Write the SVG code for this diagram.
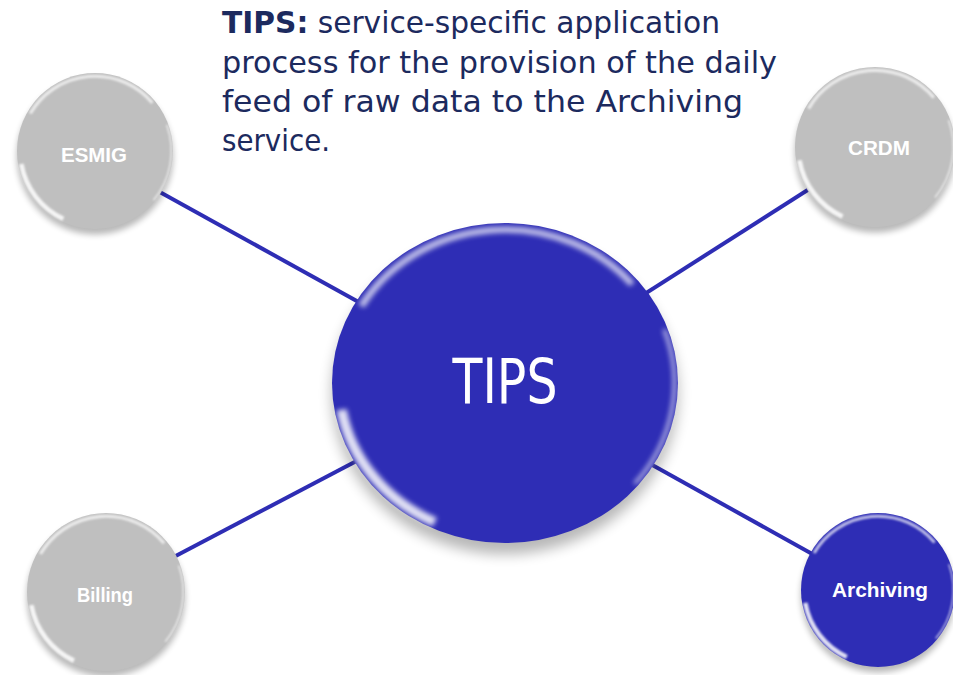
<svg xmlns="http://www.w3.org/2000/svg" width="953" height="675" viewBox="0 0 953 675">
<defs>
<filter id="shadow" x="-30%" y="-30%" width="160%" height="160%"><feGaussianBlur stdDeviation="4"/></filter>
<filter id="soft" x="-30%" y="-30%" width="160%" height="160%"><feGaussianBlur stdDeviation="1.6"/></filter>
<g id="gloss">
<path d="M -83 -48 A 96 96 0 0 1 73.5 -61.7" fill="none" stroke="#fff" stroke-width="4" opacity="0.7" filter="url(#soft)"/>
<path d="M -40.6 87 A 96 96 0 0 1 -94.5 16.7" fill="none" stroke="#fff" stroke-width="6" opacity="0.85" filter="url(#soft)"/>
<path d="M 92 -33.5 A 98 98 0 0 1 75 63" fill="none" stroke="#fff" stroke-width="2" opacity="0.7" filter="url(#soft)"/>
</g>
<g id="shadowShape"><circle cx="0" cy="7" r="100" fill="#000" opacity="0.28" filter="url(#shadow)"/></g>
</defs>
<style>
.conn{stroke:#2e2db4;stroke-width:4;fill:none}
.gray{fill:#bfbfbf}
.blue{fill:#2e2db5}
.lbl{font-family:"Liberation Sans",Arial,sans-serif;font-weight:bold;fill:#fff;text-anchor:middle}
.title{font-family:"DejaVu Sans","Liberation Sans",sans-serif;font-size:30px;fill:#1c2a5e}
</style>
<rect width="953" height="675" fill="#fff"/>
<g id="connectors">
<line class="conn" x1="120" y1="170" x2="505" y2="383"/>
<line class="conn" x1="850" y1="163" x2="505" y2="383"/>
<line class="conn" x1="130" y1="580" x2="505" y2="383"/>
<line class="conn" x1="850" y1="575" x2="505" y2="383"/>
</g>
<g id="node-esmig">
<use href="#shadowShape" transform="translate(95 151) scale(0.78)"/>
<circle class="gray" cx="95" cy="151" r="78"/>
<use href="#gloss" transform="translate(95 151) scale(0.78)"/>
<text class="lbl" x="94" y="162" font-size="21" textLength="66" lengthAdjust="spacingAndGlyphs">ESMIG</text>
</g>
<g id="node-crdm">
<use href="#shadowShape" transform="translate(875 147) scale(0.8)"/>
<circle class="gray" cx="875" cy="147" r="80"/>
<use href="#gloss" transform="translate(875 147) scale(0.8)"/>
<text class="lbl" x="879" y="155" font-size="21" textLength="62" lengthAdjust="spacingAndGlyphs">CRDM</text>
</g>
<g id="node-billing">
<use href="#shadowShape" transform="translate(106 592) scale(0.79)"/>
<circle class="gray" cx="106" cy="592" r="79"/>
<use href="#gloss" transform="translate(106 592) scale(0.79)"/>
<text class="lbl" x="105" y="602" font-size="21" textLength="56" lengthAdjust="spacingAndGlyphs">Billing</text>
</g>
<g id="node-archiving">
<use href="#shadowShape" transform="translate(878 590) scale(0.77)"/>
<circle class="blue" cx="878" cy="590" r="77"/>
<use href="#gloss" transform="translate(878 590) scale(0.77)"/>
<text class="lbl" x="880" y="597" font-size="21" textLength="96" lengthAdjust="spacingAndGlyphs">Archiving</text>
</g>
<g id="node-tips">
<use href="#shadowShape" transform="translate(505 383) scale(1.73 1.6)"/>
<ellipse class="blue" cx="505" cy="383" rx="173" ry="160"/>
<use href="#gloss" transform="translate(505 383) scale(1.73 1.6)"/>
<text x="505" y="403" font-family="'DejaVu Sans','Liberation Sans',sans-serif" font-size="62" fill="#fff" text-anchor="middle" textLength="105" lengthAdjust="spacingAndGlyphs">TIPS</text>
</g>
<g id="description">
<text class="title" x="222" y="33" textLength="498" lengthAdjust="spacingAndGlyphs"><tspan font-weight="bold">TIPS:</tspan> service-specific application</text>
<text class="title" x="222" y="73" textLength="555" lengthAdjust="spacingAndGlyphs">process for the provision of the daily</text>
<text class="title" x="222" y="112" textLength="521" lengthAdjust="spacingAndGlyphs">feed of raw data to the Archiving</text>
<text class="title" x="222" y="151" textLength="108" lengthAdjust="spacingAndGlyphs">service.</text>
</g>
</svg>
